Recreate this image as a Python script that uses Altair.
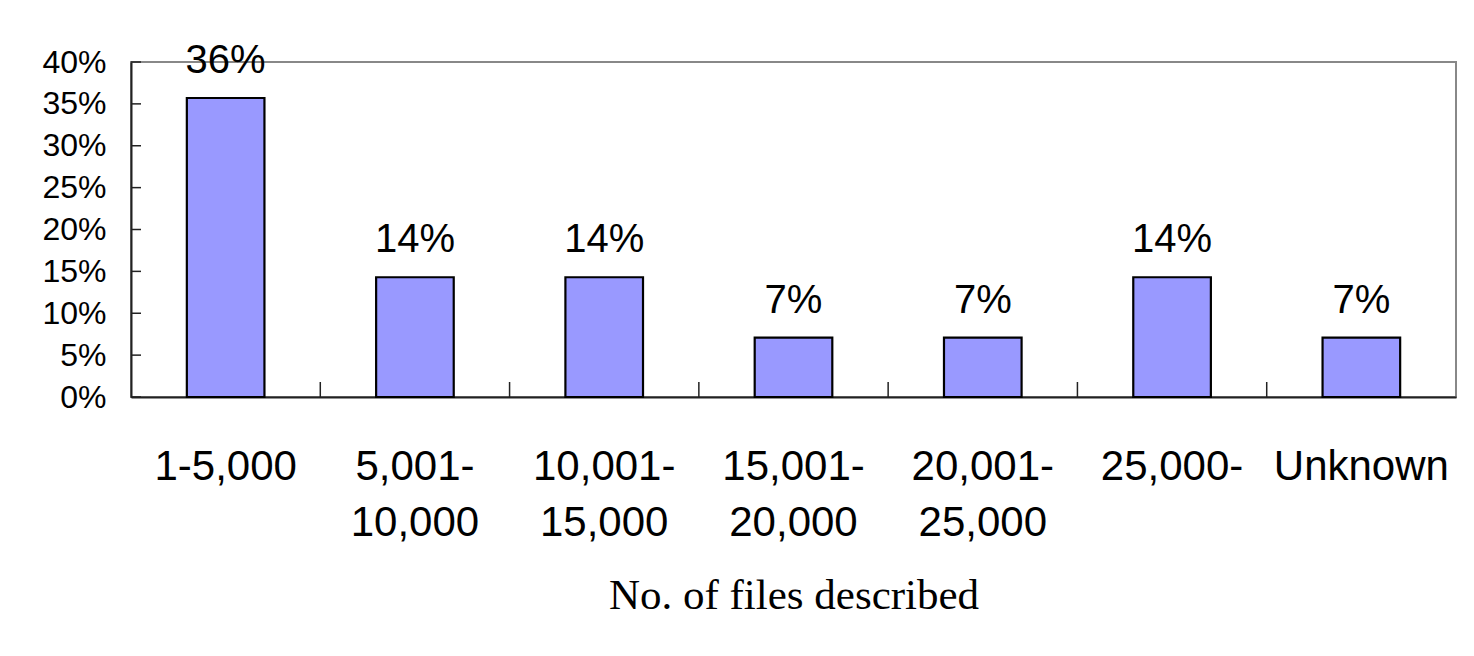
import altair as alt
import pandas as pd

categories = ["1-5,000", "5,001- 10,000", "10,001- 15,000", "15,001- 20,000",
              "20,001- 25,000", "25,000-", "Unknown"]
values = [0.357, 0.143, 0.143, 0.071, 0.071, 0.143, 0.071]
y_ticks = [0.0, 0.05, 0.10, 0.15, 0.20, 0.25, 0.30, 0.35, 0.40]
boundaries = [1, 2, 3, 4, 5, 6]

df = pd.DataFrame({"category": categories, "value": values})
df_ticks = pd.DataFrame({"tick": y_ticks})
df_bound = pd.DataFrame({"b": boundaries})

W, H = 1325, 335
SANS = "Liberation Sans"
SERIF = "Liberation Serif"
DARK = "#222222"

xscale = alt.Scale(paddingInner=0.59, paddingOuter=0.295)
yscale = alt.Scale(domain=[0, 0.4], nice=False)

bars = alt.Chart(df).mark_bar(
    color="#9999FF", stroke="black", strokeWidth=2.2
).encode(
    x=alt.X("category:N", sort=categories, scale=xscale,
            axis=alt.Axis(orient="bottom", title="No. of files described",
                          labelExpr="split(datum.label, ' ')", labelAngle=0,
                          labelFont=SANS, labelFontSize=42, labelColor="black",
                          labelPadding=49, labelLineHeight=56, labelBaseline="top",
                          ticks=False, tickSize=0, grid=False,
                          domainColor=DARK, domainWidth=2,
                          titleFont=SERIF, titleFontSize=43, titleFontWeight="normal",
                          titleColor="black", titlePadding=31)),
    y=alt.Y("value:Q", scale=yscale,
            axis=alt.Axis(orient="left", title=None, values=y_ticks, format=".0%",
                          labelFont=SANS, labelFontSize=32, labelColor="black",
                          labelPadding=25, ticks=False, tickSize=0, grid=False,
                          domainColor=DARK, domainWidth=2)),
)

labels = alt.Chart(df).mark_text(
    font=SANS, fontSize=40, color="black", baseline="alphabetic", dy=-25
).encode(
    x=alt.X("category:N", sort=categories, scale=xscale, axis=None),
    y=alt.Y("value:Q", scale=yscale, axis=None),
    text=alt.Text("value:Q", format=".0%"),
)

# inward y ticks
yticks = alt.Chart(df_ticks).mark_rule(color=DARK, strokeWidth=1.5).encode(
    y=alt.Y("tick:Q", scale=yscale, axis=None),
    x=alt.value(0),
    x2=alt.value(10),
)

# inward x ticks at category boundaries
xticks = alt.Chart(df_bound).mark_rule(color=DARK, strokeWidth=1.5).encode(
    x=alt.X("b:Q", scale=alt.Scale(domain=[0, 7], nice=False, zero=False), axis=None),
    y=alt.value(H - 15),
    y2=alt.value(H),
)

chart = alt.layer(bars, labels, yticks, xticks).resolve_scale(
    x="independent"
).resolve_axis(
    x="independent", y="independent"
).properties(
    width=W, height=H,
    autosize=alt.AutoSizeParams(type="none"),
    padding={"left": 123, "top": 54, "right": 4, "bottom": 240},
    background="white",
).configure_view(
    stroke="#888888", strokeWidth=2
)

chart.save("out.html", embed_options={"renderer": "svg", "actions": False})
